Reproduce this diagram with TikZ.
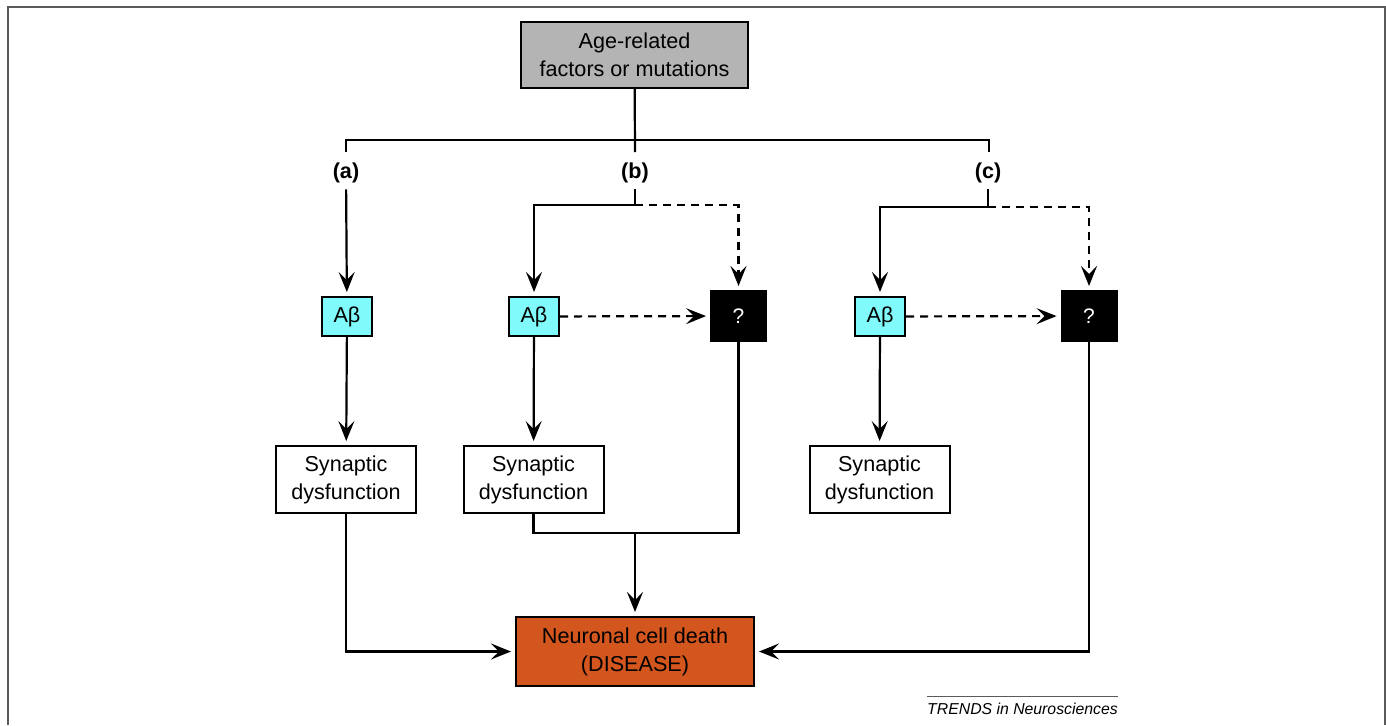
\documentclass[tikz,border=0pt]{standalone}
\usepackage{fontspec}
\setmainfont{Liberation Sans}
\usetikzlibrary{arrows.meta}
\definecolor{agegray}{RGB}{180,180,180}
\definecolor{abcyan}{RGB}{128,250,250}
\definecolor{deathorange}{RGB}{211,86,30}
\definecolor{framegray}{RGB}{90,90,90}
\tikzset{%
  box/.style={draw, line width=1pt, align=center, inner sep=0pt,
    font=\fontsize{10.8}{14}\selectfont},
  abeta/.style={box, fill=abcyan, minimum width=25pt, minimum height=19.5pt},
  query/.style={box, fill=black, text=white, minimum width=27.5pt, minimum height=25pt,
    font=\fontsize{10.5}{12}\selectfont},
  synbox/.style={box, minimum width=70pt, minimum height=33.5pt},
  tag/.style={font=\bfseries\fontsize{10.8}{14}\selectfont, inner sep=3pt},
  plain/.style={line width=1.1pt},
  link/.style={plain, -{Stealth[length=10pt, width=8pt, inset=4pt]}, shorten >=2pt},
  hint/.style={link, dash pattern=on 4pt off 3pt}
}

\begin{document}
\begin{tikzpicture}[x=0.5pt, y=-0.5pt]
    \useasboundingbox (0,0) rectangle (1386,725);
    \draw [framegray, line width=1pt] (7.5,725) -- (7.5,6.5) -- (1384.5,6.5) -- (1384.5,725);

    \node [box, fill=agegray, minimum width=113.5pt, minimum height=33pt] (age) at (634.5,55)
      {Age-related\\factors or mutations};
    \node [tag] (la) at (346,173) {(a)};
    \node [tag] (lb) at (635,173) {(b)};
    \node [tag] (lc) at (988,173) {(c)};

    \node [abeta] (abA) at (347,316.5) {Aβ};
    \node [abeta] (abB) at (534,316.5) {Aβ};
    \node [abeta] (abC) at (880,316.5) {Aβ};
    \node [query] (qB) at (738.5,316) {?};
    \node [query] (qC) at (1089,316) {?};

    \node [synbox] (synA) at (346,479.5) {Synaptic\\dysfunction};
    \node [synbox] (synB) at (533.5,479.5) {Synaptic\\dysfunction};
    \node [synbox] (synC) at (879.5,479.5) {Synaptic\\dysfunction};

    \node [box, fill=deathorange, minimum width=119pt, minimum height=34.5pt] (death) at (635,651.5)
      {Neuronal cell death\\(DISEASE)};

    \node [font=\itshape\fontsize{7.9}{9}\selectfont, inner sep=0pt] (credit) at (1022.5,709)
      {TRENDS in Neurosciences};

    \coordinate (hub) at (635,140);
    \coordinate (tickA) at (346,152);
    \coordinate (tickB) at (635,152);
    \coordinate (tickC) at (989,152);
    \coordinate (splitB) at (635,205);
    \coordinate (splitC) at (988,207);
    \coordinate (joinB) at (635,533);

    \draw [plain] (age) -- (tickB);
    \draw [plain] (tickA) |- (hub) -| (tickC);

    \draw [link] (la) -- (abA);
    \draw [plain] (lb) -- (splitB);
    \draw [link] (splitB) -| (abB);
    \draw [hint] (splitB) -| (qB);
    \draw [plain] (lc) -- (splitC);
    \draw [link] (splitC) -| (abC);
    \draw [hint] (splitC) -| (qC);

    \draw [hint] (abB) -- (qB);
    \draw [hint] (abC) -- (qC);
    \draw [link] (abA) -- (synA);
    \draw [link] (abB) -- (synB);
    \draw [link] (abC) -- (synC);

    \draw [link] (synA) |- (death);
    \draw [plain] (synB) |- (joinB) -| (qB);
    \draw [link] (joinB) -- (death);
    \draw [link] (qC) |- (death);

    \draw [framegray, line width=0.5pt] ([yshift=3pt]credit.north west) -- ([yshift=3pt]credit.north east);
\end{tikzpicture}
\end{document}
